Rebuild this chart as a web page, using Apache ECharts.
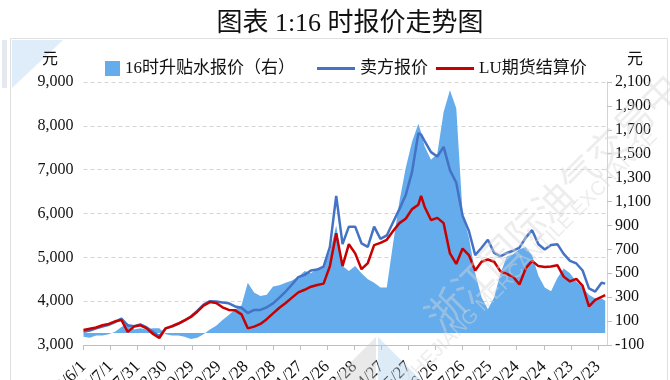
<!DOCTYPE html>
<html><head><meta charset="utf-8">
<script src="https://cdn.jsdelivr.net/npm/echarts@6/dist/echarts.min.js"></script>
<style>html,body{margin:0;padding:0;background:#fff}#c{width:670px;height:380px}</style>
</head><body><div id="c"></div>
<script>
// ---- data ----
const dates = ['2020-06-01','2020-06-08','2020-06-15','2020-06-22','2020-06-29','2020-07-06','2020-07-13','2020-07-20','2020-07-27','2020-08-03',
'2020-08-10','2020-08-17','2020-08-24','2020-08-31','2020-09-07','2020-09-14','2020-09-21','2020-09-28','2020-10-05','2020-10-12',
'2020-10-19','2020-10-26','2020-11-02','2020-11-09','2020-11-16','2020-11-23','2020-11-30','2020-12-07','2020-12-14','2020-12-21',
'2020-12-28','2021-01-04','2021-01-11','2021-01-18','2021-01-25','2021-02-01','2021-02-08','2021-02-15','2021-02-22','2021-03-01',
'2021-03-08','2021-03-15','2021-03-22','2021-03-29','2021-04-05','2021-04-12','2021-04-19','2021-04-26','2021-05-03','2021-05-10',
'2021-05-17','2021-05-24','2021-05-31','2021-06-07','2021-06-10','2021-06-14','2021-06-21','2021-06-28','2021-07-05','2021-07-12',
'2021-07-19','2021-07-26','2021-08-02','2021-08-09','2021-08-16','2021-08-23','2021-08-30','2021-09-06','2021-09-13','2021-09-20',
'2021-09-27','2021-10-04','2021-10-11','2021-10-18','2021-10-25','2021-11-01','2021-11-08','2021-11-15','2021-11-22','2021-11-29',
'2021-12-06','2021-12-13','2021-12-20','2021-12-27','2021-12-31'];

// 16时升贴水报价（右）
const basisQuote = [-30,-40,-20,-20,-10,10,50,80,30,40,
30,40,40,-10,-20,-20,-30,-50,-40,-10,
30,60,110,150,200,230,420,340,310,320,
390,400,420,440,470,520,500,540,560,680,
900,560,520,560,500,450,420,380,380,750,
1100,1380,1600,1750,1680,1560,1450,1500,1850,2030,
1880,1000,800,500,300,200,300,500,640,660,
700,720,650,480,380,350,460,540,500,430,
380,320,290,290,270];

// 卖方报价
const sellerQuote = [3300,3330,3380,3420,3460,3520,3600,3450,3430,3470,
3400,3300,3200,3380,3420,3480,3560,3650,3780,3920,
4000,3990,3970,3950,3880,3850,3730,3800,3800,3860,
3950,4080,4220,4380,4550,4600,4700,4720,4790,5240,
6400,5300,5700,5700,5320,5240,5700,5420,5500,5800,
6100,6420,6950,7830,7800,7650,7400,7300,7520,6990,
6700,5950,5600,5050,5220,5400,5100,5020,5100,5150,
5220,5450,5620,5300,5180,5280,5300,5080,4920,4860,
4700,4290,4220,4420,4400];

// LU期货结算价
const luSettle = [3340,3370,3400,3450,3480,3540,3570,3300,3420,3450,
3380,3250,3160,3380,3430,3490,3560,3640,3760,3900,
3980,3960,3860,3800,3790,3700,3380,3420,3480,3590,
3720,3850,3960,4080,4200,4260,4330,4370,4400,4800,
5550,4800,5300,5090,4730,4870,5280,5330,5400,5600,
5780,5880,6100,6200,6400,6150,5850,5900,5780,5090,
4850,5200,5050,4700,4900,4950,4900,4680,4620,4560,
4380,4750,4920,4800,4780,4790,4820,4560,4450,4510,
4350,3880,4030,4100,4140];

const seriesNames = ['16时升贴水报价（右）','卖方报价','LU期货结算价'];
const titleText = '图表 1:16 时报价走势图';
const rightTicks = [-100,100,300,500,700,900,1100,1300,1500,1700,1900,2100];

// ---- helpers ----
const SERIF = "'Liberation Serif','Noto Sans CJK SC',serif";
const T0 = Date.UTC(2020,5,1), DAY = 86400000;
const dayOf = s => { const p = s.split('-').map(Number); return Math.round((Date.UTC(p[0],p[1]-1,p[2]) - T0)/DAY); };
const fmtDate = v => { const d = new Date(T0 + v*DAY); return d.getUTCFullYear()+'/'+(d.getUTCMonth()+1)+'/'+d.getUTCDate(); };
const xs = dates.map(dayOf);
const pair = arr => arr.map((v,i) => [xs[i], v]);
const fmtNum = v => Number(v).toLocaleString('en-US');

const AREA = '#64acec', BLUE = '#4472c4', RED = '#c80000';

const chart = echarts.init(document.getElementById('c'));
chart.setOption({
  animation: false,
  backgroundColor: '#fff',
  title: { text: titleText, left: 345, top: 6, textAlign: 'center',
    textStyle: { fontFamily: SERIF, fontSize: 26, fontWeight: 'normal', color: '#111' } },
  legend: [
    { data: [{ name: seriesNames[0], icon: 'rect' }], left: 100, top: 55, itemWidth: 15, itemHeight: 15, itemGap: 8,
      textStyle: { fontFamily: SERIF, fontSize: 17, color: '#111' } },
    { data: [{ name: seriesNames[1], icon: 'rect' }, { name: seriesNames[2], icon: 'rect' }], left: 312, top: 55, itemWidth: 38, itemHeight: 3, itemGap: 8,
      textStyle: { fontFamily: SERIF, fontSize: 17, color: '#111' } }
  ],
  grid: { left: 83.5, right: 63, top: 82, bottom: 35, containLabel: false, outerBoundsMode: 'none' },
  xAxis: { type: 'value', min: 0, max: 580, interval: 30,
    axisLine: { show: true, onZero: false, lineStyle: { color: '#bfbfbf', width: 1 } },
    axisTick: { show: true, inside: false, length: 5, lineStyle: { color: '#bfbfbf' } },
    axisLabel: { rotate: 45, margin: 19, fontFamily: SERIF, fontSize: 17, color: '#111', showMaxLabel: false, formatter: fmtDate },
    splitLine: { show: false } },
  yAxis: [
    { type: 'value', min: 3000, max: 9000, interval: 1000, position: 'left',
      axisLine: { show: false }, axisTick: { show: false },
      axisLabel: { fontFamily: SERIF, fontSize: 16, color: '#111', margin: 10, formatter: fmtNum },
      splitLine: { show: true, lineStyle: { type: [4,3], color: '#d4d4d4', width: 1 } } },
    { type: 'value', min: -100, max: 2100, position: 'right',
      axisLine: { show: true, onZero: false, lineStyle: { color: '#d4d4d4' } },
      axisTick: { show: true, inside: false, length: 5, customValues: rightTicks, lineStyle: { color: '#bfbfbf' } },
      axisLabel: { customValues: rightTicks, fontFamily: SERIF, fontSize: 16, color: '#111', margin: 8, formatter: fmtNum },
      splitLine: { show: false } }
  ],
  series: [
    { name: seriesNames[0], type: 'line', yAxisIndex: 1, data: pair(basisQuote), symbol: 'none',
      lineStyle: { width: 0 }, itemStyle: { color: AREA }, areaStyle: { color: AREA, opacity: 1 }, z: 1 },
    { name: seriesNames[1], type: 'line', data: pair(sellerQuote), symbol: 'none',
      lineStyle: { width: 2.5, color: BLUE }, itemStyle: { color: BLUE }, z: 2 },
    { name: seriesNames[2], type: 'line', data: pair(luSettle), symbol: 'none',
      lineStyle: { width: 2.5, color: RED }, itemStyle: { color: RED }, z: 3 }
  ],
  graphic: [
    { type: 'rect', shape: { x: 10.5, y: 38.5, width: 657, height: 360 }, style: { fill: 'none', stroke: '#e0e0e0', lineWidth: 1 }, z: 0, silent: true },
    { type: 'polygon', shape: { points: [[12,40],[63,40],[12,88]] }, style: { fill: 'rgba(200,225,245,0.6)' }, z: 0, silent: true },
    { type: 'rect', shape: { x: 2, y: 40, width: 5, height: 48 }, style: { fill: '#e4e9f0' }, z: 0, silent: true },
    { type: 'text', left: 42, top: 52, style: { text: '元', font: '16px ' + SERIF, fill: '#111' } },
    { type: 'text', left: 627, top: 52, style: { text: '元', font: '16px ' + SERIF, fill: '#111' } },
    { type: 'polygon', shape: { points: [[333,380],[376,337],[376,380]] }, style: { fill: 'rgba(200,200,200,0.4)' }, z: 100, silent: true },
    { type: 'polygon', shape: { points: [[378,337],[378,380],[421,380]] }, style: { fill: 'rgba(170,205,235,0.4)' }, z: 100, silent: true },
    { type: 'text', x: 566, y: 188, rotation: Math.PI/4, z: 100, silent: true,
      style: { text: '浙江国际油气交易中心', font: '38px "Noto Sans CJK SC"', fill: 'rgba(215,215,215,0.45)', align: 'center', verticalAlign: 'middle' } },
    { type: 'text', x: 530, y: 258, rotation: Math.PI/4, z: 100, silent: true,
      style: { text: 'ZHEJIANG MERCANTILE EXCHANGE', font: '20px "Liberation Sans"', fill: 'rgba(215,215,215,0.45)', align: 'center', verticalAlign: 'middle' } }
  ]
});
</script>
</body></html>
